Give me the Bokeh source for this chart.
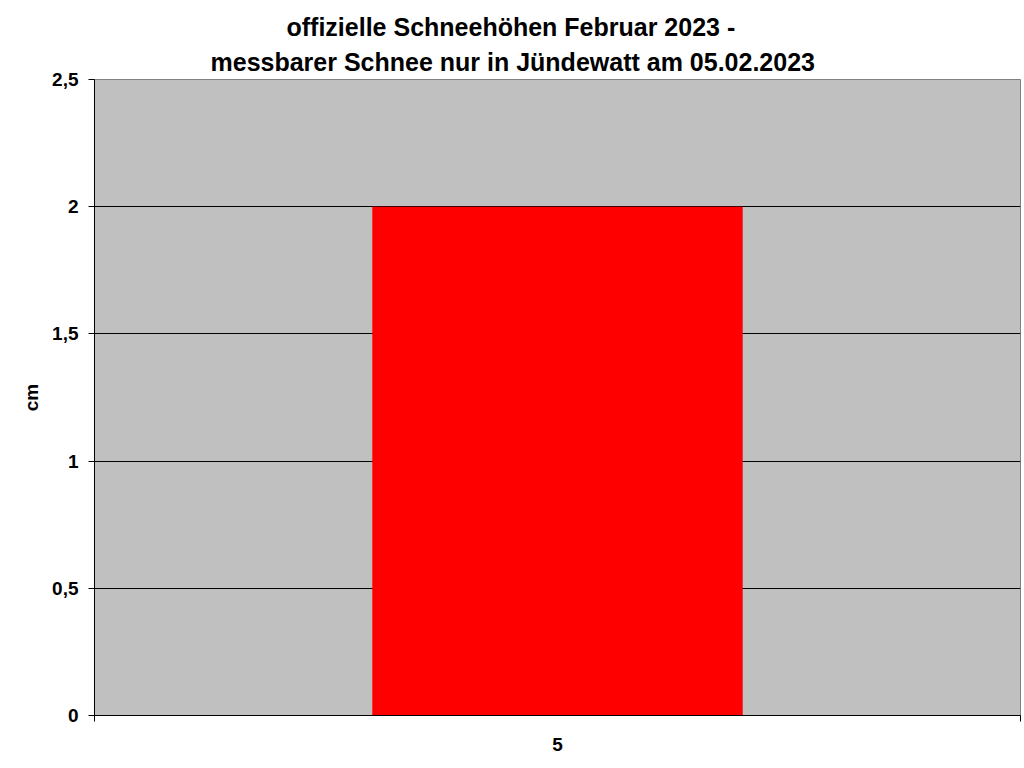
import numpy as np
from bokeh.plotting import figure
from bokeh.models import Range1d, FixedTicker, CustomJSTickFormatter, Title
from bokeh.embed import file_html
from bokeh.resources import INLINE

# Data ########################################################################

days = ["5"]
snow_cm = [2]
y_ticks = [0, 0.5, 1, 1.5, 2, 2.5]
title_line1 = "offizielle Schneehöhen Februar 2023 -"
title_line2 = "messbarer Schnee nur in Jündewatt am 05.02.2023"

font = "Liberation Sans"

# Plot ########################################################################

x_pos = np.arange(len(days)) + 0.5

p = figure(width=1022, height=766, title=None, toolbar_location=None,
           output_backend="svg", x_range=Range1d(0, len(days)),
           y_range=Range1d(0, 2.5))
p.min_border_left = 94
p.min_border_right = 2
p.min_border_bottom = 51
p.min_border_top = 79

p.background_fill_color = "#C0C0C0"
p.border_fill_color = "white"
p.outline_line_color = "#808080"

p.vbar(x=x_pos, top=snow_cm, width=0.4, bottom=0, fill_color="#FF0000",
       line_color=None)

# titles are left aligned with an offset so they sit centred on the page
p.add_layout(Title(text=title_line2, align="left", text_font=font,
                   text_font_size="25px", text_font_style="bold",
                   text_color="black", offset=116, standoff=7), "above")
p.add_layout(Title(text=title_line1, align="left", text_font=font,
                   text_font_size="25px", text_font_style="bold",
                   text_color="black", offset=192, standoff=3), "above")

# x axis: label in the middle, tick marks at the category edges
xa = p.xaxis[0]
xa.ticker = FixedTicker(ticks=list(x_pos), minor_ticks=list(range(len(days) + 1)))
xa.major_label_overrides = {float(x): d for x, d in zip(x_pos, days)}
xa.major_tick_out = 0
xa.major_tick_in = 0
xa.minor_tick_out = 6
xa.minor_tick_in = 0
xa.minor_tick_line_color = "black"
xa.axis_line_color = "black"
xa.major_label_text_font = font
xa.major_label_text_font_size = "19px"
xa.major_label_text_font_style = "bold"
xa.major_label_text_color = "black"
xa.major_label_standoff = 16

ya = p.yaxis[0]
ya.ticker = FixedTicker(ticks=y_ticks)
ya.formatter = CustomJSTickFormatter(code="return tick.toString().replace('.', ',');")
ya.major_tick_out = 6
ya.major_tick_in = 0
ya.minor_tick_line_color = None
ya.axis_line_color = "black"
ya.major_label_text_font = font
ya.major_label_text_font_size = "19px"
ya.major_label_text_font_style = "bold"
ya.major_label_text_color = "black"
ya.major_label_standoff = 10
ya.axis_label = "cm"
ya.axis_label_text_font = font
ya.axis_label_text_font_size = "19px"
ya.axis_label_text_font_style = "bold"
ya.axis_label_text_color = "black"
ya.axis_label_standoff = 7

p.xgrid.grid_line_color = None
p.ygrid.ticker = FixedTicker(ticks=y_ticks)
p.ygrid.grid_line_color = "black"
p.ygrid.grid_line_width = 1

open("out.html", "w").write(file_html(p, INLINE))
